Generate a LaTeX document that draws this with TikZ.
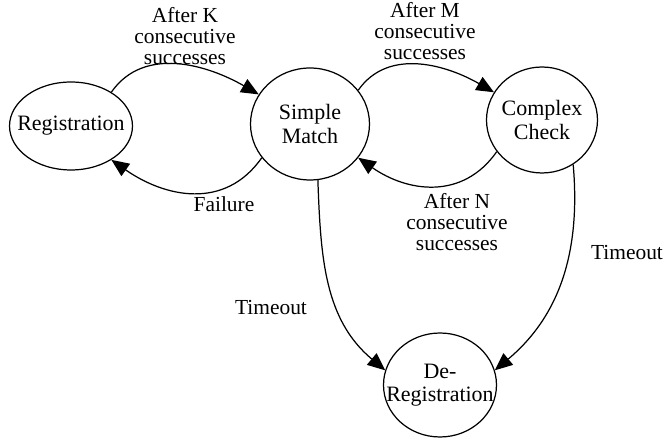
\documentclass[tikz,border=0pt]{standalone}
\usepackage{fontspec}
\setmainfont{Liberation Serif}
\usetikzlibrary{shapes.geometric, arrows.meta}
\begin{document}
\begin{tikzpicture}[x = 0.02cm, y = -0.02cm]
            \tikzset{
                state/.style = {
                    draw, ellipse, line width = 0.7pt,
                    inner xsep = -20pt, inner ysep = 0pt, align = center,
                    font = \fontsize{12.5}{13.2}\selectfont
                },
                trans-label/.style = {
                    align = center,
                    font = \fontsize{12.2}{11.8}\selectfont
                },
                trans/.style = {
                    -{Triangle[length = 10pt, width = 8.5pt]},
                    line width = 0.7pt
                }
            }

            \useasboundingbox (0, 0) rectangle (664, 438);

            \node[state, minimum width = 2.46cm, minimum height = 1.76cm]
                (reg) at (71, 126) {Registration};
            \node[state, minimum width = 2.38cm, minimum height = 2.24cm]
                (simple) at (310, 124) {Simple\\Match};
            \node[state, minimum width = 2.22cm, minimum height = 2.12cm]
                (complex) at (542, 120) {Complex\\Check};
            \node[state, minimum width = 2.26cm, minimum height = 2.08cm]
                (dereg) at (440, 385) {De-\\Registration};

            \node[trans-label] (lab-k) at (185, 36) {After K\\consecutive\\successes};
            \node[trans-label] (lab-m) at (425, 31) {After M\\consecutive\\successes};
            \node[trans-label] (lab-n) at (457, 222) {After N\\consecutive\\successes};
            \node[trans-label] (lab-fail) at (224, 204) {Failure};
            \node[trans-label] (lab-to-simple) at (271, 308) {Timeout};
            \node[trans-label] (lab-to-complex) at (627, 253) {Timeout};

            \draw[trans] (reg.40) to[out = 55, in = 150] (simple.150);
            \draw[trans] (simple.215) to[out = 235, in = -35, looseness = 1.1] (reg.-40);
            \draw[trans] (simple.35) to[out = 55, in = 150] (complex.150);
            \draw[trans] (complex.215) to[out = 235, in = -35, looseness = 1.1] (simple.-35);
            \draw[trans] (simple.-82) to[out = -88, in = 140] (dereg.165);
            \draw[trans] (complex.-55) to[out = -85, in = 40] (dereg.15);
\end{tikzpicture}
\end{document}
